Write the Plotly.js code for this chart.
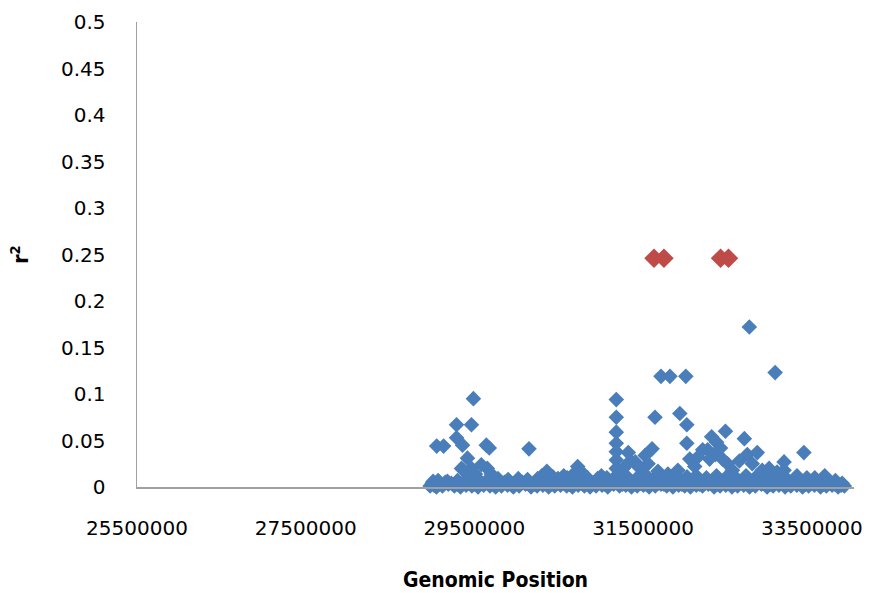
<!DOCTYPE html>
<html>
<head>
<meta charset="utf-8">
<script src="https://cdn.plot.ly/plotly-3.0.1.min.js"></script>
<style>html,body{margin:0;padding:0;background:#fff;}#chart{width:870px;height:593px;}</style>
</head>
<body>
<div id="chart"></div>
<script>
// Dense band of SNPs with r2 near zero (genomic position, r2)
const bandPos = [28975000,29022000,29050000,29121000,29190000,29262000,29335000,29401000,29470000,29543000,
  29610000,29684000,29752000,29821000,29893000,29962000,30030000,30105000,30171000,30243000,
  30312000,30380000,30452000,30521000,30594000,30662000,30730000,30804000,30871000,30942000,
  31013000,31081000,31152000,31220000,31295000,31362000,31430000,31503000,31571000,31644000,
  31712000,31780000,31853000,31921000,31993000,32061000,32130000,32204000,32272000,32341000,
  32412000,32480000,32553000,32620000,32692000,32761000,32830000,32902000,32970000,33041000,
  33110000,33183000,33251000,33322000,33390000,33462000,33531000,33603000,33672000,33740000,
  33811000,33885000,
  29000000,29085000,29155000,29226000,29298000,29368000,29436000,29507000,29576000,29647000,
  29718000,29786000,29857000,29928000,29996000,30068000,30138000,30207000,30278000,30346000,
  30416000,30487000,30557000,30628000,30696000,30767000,30838000,30906000,30977000,31047000,
  31116000,31186000,31257000,31328000,31396000,31466000,31537000,31608000,31678000,31746000,
  31817000,31887000,31957000,32027000,32096000,32167000,32238000,32306000,32376000,32446000,
  32517000,32586000,32656000,32726000,32796000,32866000,32936000,33006000,33076000,33146000,
  33217000,33286000,33356000,33426000,33496000,33567000,33637000,33706000,33776000,33848000,
  29010000,29070000,29180000,29300000,29420000,29550000,29660000,29780000,29900000,30020000,
  30130000,30250000,30370000,30490000,30600000,30720000,30840000,30960000,31070000,31200000,
  31310000,31430000,31550000,31660000,31780000,31900000,32020000,32130000,32250000,32370000,
  32490000,32600000,32720000,32840000,32960000,33070000,33190000,33310000,33430000,33540000,
  33660000,33780000,33860000];
const bandR2 = [0.001,0.002,0.000,0.001,0.003,0.001,0.000,0.002,0.001,0.000,
  0.002,0.001,0.000,0.001,0.002,0.000,0.001,0.003,0.000,0.001,
  0.002,0.000,0.001,0.002,0.001,0.000,0.002,0.001,0.000,0.001,
  0.002,0.000,0.003,0.001,0.002,0.000,0.001,0.002,0.000,0.001,
  0.003,0.001,0.000,0.002,0.001,0.000,0.002,0.001,0.003,0.000,
  0.001,0.002,0.000,0.001,0.002,0.000,0.001,0.003,0.000,0.001,
  0.002,0.000,0.001,0.002,0.000,0.001,0.002,0.000,0.001,0.002,
  0.000,0.001,
  0.004,0.003,0.005,0.004,0.003,0.005,0.004,0.003,0.004,0.005,
  0.003,0.004,0.005,0.003,0.004,0.005,0.004,0.003,0.005,0.004,
  0.003,0.005,0.004,0.003,0.005,0.004,0.003,0.004,0.005,0.003,
  0.004,0.005,0.003,0.004,0.005,0.004,0.003,0.005,0.004,0.003,
  0.005,0.004,0.003,0.005,0.004,0.003,0.005,0.004,0.003,0.005,
  0.004,0.003,0.005,0.004,0.003,0.005,0.004,0.003,0.005,0.004,
  0.003,0.005,0.004,0.003,0.004,0.005,0.003,0.004,0.003,0.002,
  0.006,0.007,0.006,0.007,0.009,0.008,0.008,0.009,0.008,0.009,
  0.008,0.009,0.010,0.009,0.010,0.009,0.010,0.009,0.010,0.012,
  0.011,0.010,0.011,0.012,0.010,0.012,0.011,0.012,0.010,0.012,
  0.011,0.010,0.012,0.011,0.010,0.011,0.010,0.009,0.008,0.008,
  0.010,0.007,0.004];
// SNPs standing above the band
const upperPos = [29347000,29371000,29465000,29512000,29582000,29653000,29700000,30300000,30359000,30429000,
  30559000,30676000,30724000,30771000,31006000,31182000,31182000,31265000,31347000,31441000,
  31500000,31559000,31676000,31794000,31912000,32053000,32112000,32206000,32288000,32359000,
  32441000,32500000,32559000,32641000,32735000,32794000,32912000,32994000,33088000,33171000,
  33324000,33441000,33535000,33653000,
  29053000,29135000,29288000,29465000,29488000,29288000,29359000,29641000,29676000,29418000,
  30147000,31182000,31182000,31182000,31182000,31182000,31182000,31324000,31406000,31524000,
  31606000,31641000,31712000,31818000,32006000,31935000,32018000,32018000,32147000,32312000,
  32371000,32476000,32700000,32759000,33065000,32853000,33171000,33406000,32265000,32418000];
const upperR2 = [0.020,0.018,0.020,0.014,0.024,0.020,0.014,0.012,0.017,0.011,
  0.012,0.014,0.022,0.016,0.012,0.020,0.012,0.020,0.028,0.022,
  0.015,0.025,0.017,0.014,0.018,0.030,0.022,0.040,0.030,0.035,
  0.030,0.025,0.018,0.028,0.035,0.025,0.018,0.020,0.016,0.018,
  0.012,0.010,0.010,0.012,
  0.044,0.044,0.067,0.067,0.095,0.053,0.045,0.045,0.042,0.031,
  0.041,0.094,0.075,0.059,0.047,0.038,0.029,0.037,0.027,0.034,
  0.041,0.075,0.119,0.119,0.119,0.079,0.067,0.047,0.032,0.054,
  0.048,0.060,0.052,0.172,0.123,0.037,0.027,0.037,0.040,0.042];
// Highlighted SNPs
const sigPos = [31629000,31747000,32418000,32512000];
const sigR2 = [0.246,0.246,0.246,0.246];

const xTicks = [25500000,27500000,29500000,31500000,33500000];
const xTickText = ['25500000','27500000','29500000','31500000','33500000'];

const blue = '#4A7EBB';
const traces = [
  {x: bandPos, y: bandR2, type: 'scatter', mode: 'markers', cliponaxis: false,
   marker: {symbol: 'diamond', size: 12, color: blue, line: {width: 0}}},
  {x: upperPos, y: upperR2, type: 'scatter', mode: 'markers', cliponaxis: false,
   marker: {symbol: 'diamond', size: 12, color: blue, line: {width: 0}}},
  {x: sigPos, y: sigR2, type: 'scatter', mode: 'markers', cliponaxis: false,
   marker: {symbol: 'diamond', size: 15, color: '#BE4B48', line: {width: 0}}}
];
const font = {family: 'DejaVu Sans, Liberation Sans, sans-serif', size: 20, color: '#000'};
const titleFont = {family: 'DejaVu Sans Condensed, DejaVu Sans, sans-serif', size: 21, color: '#000'};
const layout = {
  width: 870, height: 593,
  margin: {l: 137, r: 16, t: 22, b: 106},
  paper_bgcolor: '#fff', plot_bgcolor: '#fff',
  showlegend: false,
  font: font,
  xaxis: {
    range: [25500000, 34000000], tickmode: 'array', tickvals: xTicks, ticktext: xTickText,
    showgrid: false, zeroline: false, showline: true, linecolor: '#A0A0A0', linewidth: 1.5,
    ticks: '', ticklabelstandoff: 22, tickfont: font,
    title: {text: '<b>Genomic Position</b>', standoff: 34, font: titleFont}
  },
  yaxis: {
    range: [0, 0.5], dtick: 0.05, tick0: 0,
    showgrid: false, zeroline: false, showline: true, linecolor: '#A0A0A0', linewidth: 1.5,
    ticks: '', ticklabelstandoff: 26, tickfont: font,
    title: {text: '<b>r<sup>2</sup></b>', standoff: 26, font: titleFont}
  }
};
Plotly.newPlot('chart', traces, layout, {displayModeBar: false, staticPlot: true});
</script>
</body>
</html>
